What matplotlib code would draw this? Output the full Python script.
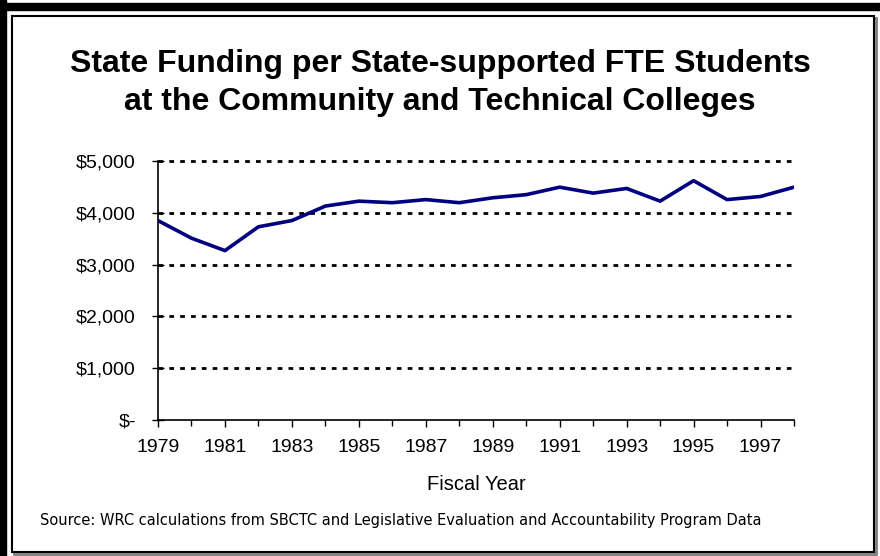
import matplotlib
matplotlib.use("Agg")
import matplotlib.pyplot as plt
from matplotlib.patches import Rectangle

plt.rcParams['font.family'] = ['Liberation Sans', 'DejaVu Sans']

# data
years = list(range(1979, 1999))
funding = [3850, 3510, 3270, 3730, 3850, 4130, 4225, 4195, 4255, 4195,
           4290, 4350, 4495, 4380, 4470, 4225, 4620, 4255, 4315, 4495]
yticks = [0, 1000, 2000, 3000, 4000, 5000]
ylabels = ['$-', '$1,000', '$2,000', '$3,000', '$4,000', '$5,000']

W, H = 880, 556
fig = plt.figure(figsize=(W / 100, H / 100), dpi=100)

# outer frame: thick black left/top, thin inner box with grey shadow
fig.patches.append(Rectangle((0, 0), 6 / W, 1, transform=fig.transFigure,
                             color='black', zorder=-10))
fig.patches.append(Rectangle((0, 1 - 10 / H), 1, 7 / H, transform=fig.transFigure,
                             color='black', zorder=-10))
fig.patches.append(Rectangle((14 / W, 2 / H), 862 / W, 536 / H, transform=fig.transFigure,
                             facecolor='none', edgecolor='#808080', lw=2, zorder=-10))
fig.patches.append(Rectangle((12 / W, 4.5 / H), 862 / W, 536 / H, transform=fig.transFigure,
                             facecolor='white', edgecolor='black', lw=1.5, zorder=-9))

ax = fig.add_axes([158 / W, 1 - 420 / H, (794 - 158) / W, (420 - 161) / H])
ax.set_zorder(5)
ax.set_facecolor('none')

for v in yticks[1:]:
    ax.axhline(v, xmax=0.995, color='black', lw=2, ls=(0, (1.7, 2.2)),
               zorder=1, clip_on=False)

ax.plot(years, funding, color='#000080', lw=2.6, zorder=3)

ax.set_xlim(1979, 1998)
ax.set_ylim(0, 5000)
ax.set_yticks(yticks)
ax.set_yticklabels(ylabels)
ax.set_xticks(years, minor=True)
ax.set_xticks(list(range(1979, 1999, 2)))
ax.tick_params(axis='y', direction='inout', length=8, width=1, labelsize=14, pad=12)
ax.tick_params(axis='x', which='major', direction='out', length=5, width=1,
               labelsize=14, pad=9)
ax.tick_params(axis='x', which='minor', direction='out', length=4, width=1)
for s in ['top', 'right']:
    ax.spines[s].set_visible(False)
for s in ['left', 'bottom']:
    ax.spines[s].set_linewidth(1.2)

ax.set_xlabel('Fiscal Year', fontsize=14.5, labelpad=13)

fig.text(0.5, 1 - 83 / H,
         'State Funding per State-supported FTE Students\nat the Community and Technical Colleges',
         ha='center', va='center', fontsize=23, fontweight='bold', linespacing=1.38)

fig.text(40 / W, 1 - 521 / H,
         'Source: WRC calculations from SBCTC and Legislative Evaluation and Accountability Program Data',
         ha='left', va='center', fontsize=10.5, family='DejaVu Sans')

fig.savefig('out.png', dpi=100)
